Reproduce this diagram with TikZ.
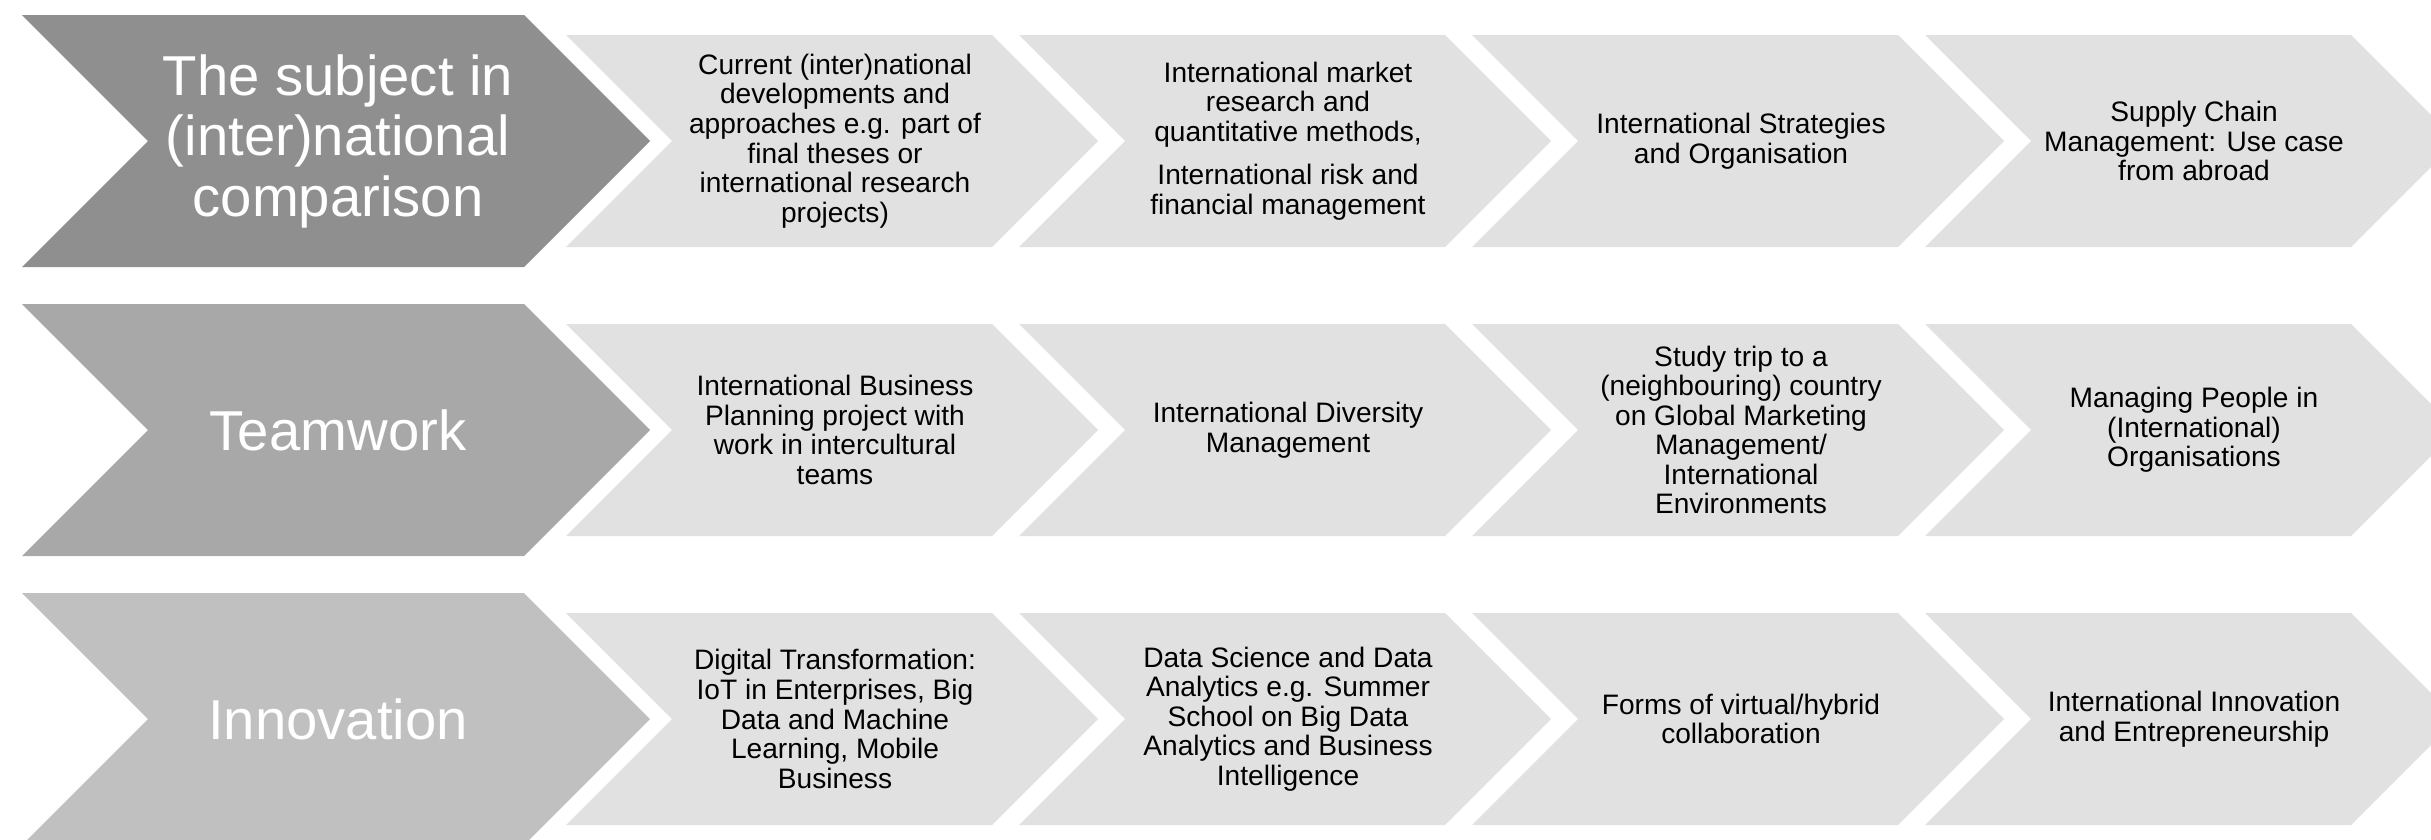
\documentclass[tikz,border=0pt]{standalone}
\usepackage{fontspec}
\setmainfont{Liberation Sans}

\definecolor{greyA}{HTML}{8F8F8F}
\definecolor{greyB}{HTML}{A8A8A8}
\definecolor{greyC}{HTML}{C0C0C0}
\definecolor{greyL}{HTML}{E1E1E1}

% chevron: colour, left x, top y, body width, half height
\newcommand{\chevron}[5]{%
  \fill[#1] (#2,#3) -- ++(#4,0) -- ++(#5,#5) -- ++(-#5,#5) -- ++(-#4,0) -- ++(#5,-#5) -- cycle;}

\tikzset{
  headtext/.style={align=center,text=white,font=\fontsize{16}{17.2}\selectfont,inner sep=0pt},
  celltext/.style={align=center,text=black,font=\fontsize{8}{8.4}\selectfont,inner sep=0pt}
}

\begin{document}
\begin{tikzpicture}[x=0.01cm,y=-0.01cm]
  \clip (0,0) rectangle (2431,839);

  % riga 1
  \chevron{greyA}{22}{15}{502}{126}
  \chevron{greyL}{566}{35}{426}{106}
  \chevron{greyL}{1019}{35}{426}{106}
  \chevron{greyL}{1472}{35}{426}{106}
  \chevron{greyL}{1925}{35}{426}{106}
  \node[headtext] (subject) at (338,141) {The subject in\\(inter)national\\comparison};
  \node[celltext] (current) at (835,141) {Current (inter)national\\developments and\\approaches e.g. part of\\final theses or\\international research\\projects)};
  \node[celltext] (market) at (1288,141) {International market\\research and\\quantitative methods,\\[4pt]International risk and\\financial management};
  \node[celltext] (strategy) at (1741,141) {International Strategies\\and Organisation};
  \node[celltext] (supply) at (2194,141) {Supply Chain\\Management: Use case\\from abroad};

  % riga 2
  \chevron{greyB}{22}{304}{502}{126}
  \chevron{greyL}{566}{324}{426}{106}
  \chevron{greyL}{1019}{324}{426}{106}
  \chevron{greyL}{1472}{324}{426}{106}
  \chevron{greyL}{1925}{324}{426}{106}
  \node[headtext] (teamwork) at (338,430) {Teamwork};
  \node[celltext] (planning) at (835,430) {International Business\\Planning project with\\work in intercultural\\teams};
  \node[celltext] (diversity) at (1288,430) {International Diversity\\Management};
  \node[celltext] (trip) at (1741,430) {Study trip to a\\(neighbouring) country\\on Global Marketing\\Management/\\International\\Environments};
  \node[celltext] (people) at (2194,430) {Managing People in\\(International)\\Organisations};

  % riga 3
  \chevron{greyC}{22}{593}{502}{126}
  \chevron{greyL}{566}{613}{426}{106}
  \chevron{greyL}{1019}{613}{426}{106}
  \chevron{greyL}{1472}{613}{426}{106}
  \chevron{greyL}{1925}{613}{426}{106}
  \node[headtext] (innovation) at (338,719) {Innovation};
  \node[celltext] (digital) at (835,719) {Digital Transformation:\\IoT in Enterprises, Big\\Data and Machine\\Learning, Mobile\\Business};
  \node[celltext] (datasci) at (1288,719) {Data Science and Data\\Analytics e.g. Summer\\School on Big Data\\Analytics and Business\\Intelligence};
  \node[celltext] (hybrid) at (1741,719) {Forms of virtual/hybrid\\collaboration};
  \node[celltext] (entre) at (2194,719) {International Innovation\\and Entrepreneurship};
\end{tikzpicture}
\end{document}
